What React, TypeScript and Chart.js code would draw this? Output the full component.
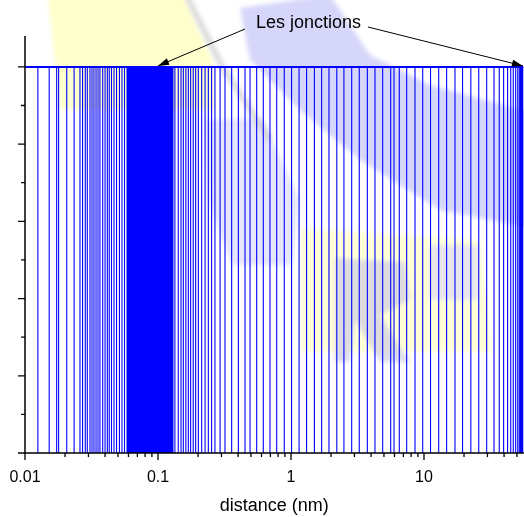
import React, { useEffect, useRef } from 'react';
import { Chart, registerables } from 'chart.js';

Chart.register(...registerables);

// ---- data (distances of the junctions, nm) ----
const junctionDistances = [
  0.0125, 0.0152, 0.0173, 0.0179, 0.0206, 0.0234, 0.0259, 0.0271, 0.0284, 0.0294,
  0.0308, 0.0319, 0.033, 0.0342, 0.0354, 0.0366, 0.0384, 0.04, 0.0416, 0.043,
  0.0447, 0.0467, 0.0488, 0.0513, 0.0536, 0.056, 0.0585,
  0.0595, 0.0605, 0.0615, 0.0625, 0.0635, 0.0645, 0.0656, 0.0667, 0.0678, 0.0689,
  0.07, 0.0712, 0.0724, 0.0736, 0.0748, 0.076, 0.0773, 0.0786, 0.0799, 0.0812,
  0.0826, 0.084, 0.0854, 0.0868, 0.0883, 0.0898, 0.0913, 0.0928, 0.0944, 0.096,
  0.0976, 0.0992, 0.1009, 0.1026, 0.1043, 0.106, 0.1078, 0.1096, 0.1114, 0.1133,
  0.1152, 0.1171, 0.1191, 0.1211, 0.1231, 0.1252, 0.1273, 0.1295,
  0.134, 0.142, 0.149, 0.155, 0.162, 0.169, 0.176, 0.184, 0.192, 0.201,
  0.213, 0.226, 0.239, 0.253, 0.268, 0.293, 0.319, 0.358, 0.402, 0.451,
  0.492, 0.552, 0.619, 0.695, 0.781, 0.89, 1.01, 1.15, 1.31, 1.5,
  1.7, 1.93, 2.21, 2.5, 2.86, 3.26, 3.75, 4.28, 4.89, 5.62,
  5.95, 6.52, 7.41, 8.56, 9.78, 11.2, 12.9, 14.8, 17.1, 19.5,
  22.5, 25.8, 29.6, 33.6, 36.8, 39.7, 42.5, 44.9, 46.9, 48.9,
  50.7, 52.1, 53.2, 54.1, 54.9, 55.5,
];
const junctionLevel = 1;
const baseLevel = 0;

const xAxisMin = 0.01;
const xAxisMax = 56;
const yAxisMin = 0;
const yAxisMax = 1.08;

const xTickValues = [0.01, 0.1, 1, 10];
const xTickLabels = ['0.01', '0.1', '1', '10'];
const xMinorTicks = [
  0.02, 0.03, 0.04, 0.05, 0.06, 0.07, 0.08, 0.09,
  0.2, 0.3, 0.4, 0.5, 0.6, 0.7, 0.8, 0.9,
  2, 3, 4, 5, 6, 7, 8, 9,
  20, 30, 40, 50,
];
const yMajorTicks = [0, 0.2, 0.4, 0.6, 0.8, 1.0];
const yMinorTicks = [0.1, 0.3, 0.5, 0.7, 0.9];

const xAxisTitle = 'distance (nm)';
const annotationText = 'Les jonctions';
const arrowTargets = [0.1, 55.5];

const FONT = '"Liberation Sans", Arial, Helvetica, sans-serif';

const watermarkPlugin = {
  id: 'watermark',
  beforeDraw(chart: any) {
    const ctx = chart.ctx;
    ctx.save();
    ctx.fillStyle = '#ffffff';
    ctx.fillRect(0, 0, chart.width, chart.height);
    ctx.filter = 'blur(2px)';
    const poly = (pts: number[][], color: string) => {
      ctx.beginPath();
      ctx.moveTo(pts[0][0], pts[0][1]);
      for (let i = 1; i < pts.length; i++) ctx.lineTo(pts[i][0], pts[i][1]);
      ctx.closePath();
      ctx.fillStyle = color;
      ctx.fill();
    };
    // yellow top-left
    poly([[48, -5], [183, -5], [212, 60], [215, 110], [60, 110]], '#ffffcc');
    // lavender diagonal band
    poly([[240, 8], [330, -5], [370, 55], [430, 85], [530, 112], [530, 228], [440, 210], [360, 160], [300, 110], [250, 60]], '#d6d6fa');
    // centre lavender
    poly([[205, 120], [262, 118], [300, 200], [292, 265], [232, 265], [208, 200]], 'rgba(214,214,246,0.6)');
    // yellow lower middle
    poly([[300, 228], [480, 240], [492, 352], [300, 352]], 'rgba(255,255,200,0.7)');
    // grey R-shape
    poly([[335, 258], [405, 262], [410, 300], [380, 315], [410, 362], [380, 362], [355, 320], [350, 362], [335, 362]], 'rgba(205,205,225,0.7)');
    // small lavender
    poly([[430, 245], [478, 245], [478, 300], [430, 300]], 'rgba(214,214,246,0.6)');
    // grey diagonal shadow
    ctx.strokeStyle = 'rgba(195,195,195,0.6)';
    ctx.lineWidth = 6;
    ctx.beginPath();
    ctx.moveTo(186, -5);
    ctx.lineTo(222, 66);
    ctx.lineTo(270, 140);
    ctx.stroke();
    ctx.restore();
  },
};

const axesPlugin = {
  id: 'axesAndNotes',
  afterDatasetsDraw(chart: any) {
    const ctx = chart.ctx;
    const xs = chart.scales.x;
    const ys = chart.scales.y;
    const { left, right, top, bottom } = chart.chartArea;
    ctx.save();
    ctx.strokeStyle = '#000';
    ctx.lineWidth = 1.5;
    // axis lines
    ctx.beginPath();
    ctx.moveTo(left, top);
    ctx.lineTo(left, bottom);
    ctx.lineTo(right + 1, bottom);
    ctx.stroke();
    // x ticks
    ctx.lineWidth = 1.3;
    ctx.beginPath();
    xTickValues.forEach((v) => {
      const p = xs.getPixelForValue(v);
      ctx.moveTo(p, bottom);
      ctx.lineTo(p, bottom + 7);
    });
    xMinorTicks.forEach((v) => {
      const p = xs.getPixelForValue(v);
      ctx.moveTo(p, bottom);
      ctx.lineTo(p, bottom + 4);
    });
    // y ticks
    yMajorTicks.forEach((v) => {
      const p = ys.getPixelForValue(v);
      ctx.moveTo(left, p);
      ctx.lineTo(left - 7, p);
    });
    yMinorTicks.forEach((v) => {
      const p = ys.getPixelForValue(v);
      ctx.moveTo(left, p);
      ctx.lineTo(left - 4, p);
    });
    ctx.stroke();

    // annotation
    ctx.fillStyle = '#000';
    ctx.font = `18px ${FONT}`;
    ctx.textAlign = 'center';
    ctx.textBaseline = 'middle';
    ctx.fillText(annotationText, 308.5, 23);
    const starts = [
      [245, 29],
      [368, 27],
    ];
    arrowTargets.forEach((v, i) => {
      const tx = Math.min(xs.getPixelForValue(v), right - 0.5);
      const ty = ys.getPixelForValue(junctionLevel) - 1;
      const [sx, sy] = starts[i];
      ctx.lineWidth = 1;
      ctx.beginPath();
      ctx.moveTo(sx, sy);
      ctx.lineTo(tx, ty);
      ctx.stroke();
      const ang = Math.atan2(ty - sy, tx - sx);
      const L = 11;
      const W = 3.5;
      ctx.beginPath();
      ctx.moveTo(tx, ty);
      ctx.lineTo(tx - L * Math.cos(ang) + W * Math.sin(ang), ty - L * Math.sin(ang) - W * Math.cos(ang));
      ctx.lineTo(tx - L * Math.cos(ang) - W * Math.sin(ang), ty - L * Math.sin(ang) + W * Math.cos(ang));
      ctx.closePath();
      ctx.fill();
    });
    ctx.restore();
  },
};

export default function App() {
  const canvasRef = useRef<HTMLCanvasElement | null>(null);

  useEffect(() => {
    document.body.style.margin = '0';
    const canvas = canvasRef.current;
    if (!canvas) return;

    const impulses: any[] = [];
    junctionDistances.forEach((d) => {
      impulses.push({ x: d, y: baseLevel });
      impulses.push({ x: d, y: junctionLevel });
      impulses.push({ x: d, y: null });
    });
    const topLine = [
      { x: xAxisMin, y: junctionLevel },
      { x: xAxisMax, y: junctionLevel },
    ];

    const chart = new Chart(canvas, {
      type: 'line',
      data: {
        datasets: [
          {
            data: impulses,
            borderColor: '#0000ff',
            borderWidth: 1.1,
            pointRadius: 0,
            spanGaps: false,
            tension: 0,
          },
          {
            data: topLine,
            borderColor: '#0000ff',
            borderWidth: 2,
            pointRadius: 0,
            tension: 0,
          },
        ],
      },
      options: {
        animation: false,
        responsive: false,
        devicePixelRatio: 1,
        layout: { padding: { left: 25, right: 0.5, top: 36, bottom: 0 } },
        plugins: {
          legend: { display: false },
          tooltip: { enabled: false },
        },
        scales: {
          x: {
            type: 'logarithmic',
            min: xAxisMin,
            max: xAxisMax,
            grid: { display: false, drawTicks: false },
            border: { display: false },
            ticks: {
              autoSkip: false,
              maxRotation: 0,
              padding: 15,
              color: '#000',
              font: { family: FONT, size: 16 },
              callback: (value: any) => {
                const v = Number(value);
                const idx = xTickValues.findIndex((t) => Math.abs(v - t) / t < 1e-6);
                return idx >= 0 ? xTickLabels[idx] : '';
              },
            },
            title: {
              display: true,
              text: xAxisTitle,
              color: '#000',
              font: { family: FONT, size: 18 },
              padding: { top: 0, bottom: 0 },
            },
            afterFit: (scale: any) => {
              scale.height = 64;
              scale.paddingLeft = 0;
              scale.paddingRight = 0;
            },
          },
          y: {
            type: 'linear',
            min: yAxisMin,
            max: yAxisMax,
            grid: { display: false, drawTicks: false },
            border: { display: false },
            ticks: { display: false },
            afterFit: (scale: any) => {
              scale.width = 0;
              scale.paddingTop = 0;
              scale.paddingBottom = 0;
            },
          },
        },
      },
      plugins: [watermarkPlugin, axesPlugin],
    } as any);

    return () => chart.destroy();
  }, []);

  return (
    <div style={{ position: 'fixed', left: 0, top: 0, width: 524, height: 517 }}>
      <canvas ref={canvasRef} width={524} height={517} style={{ width: 524, height: 517, display: 'block' }} />
    </div>
  );
}
